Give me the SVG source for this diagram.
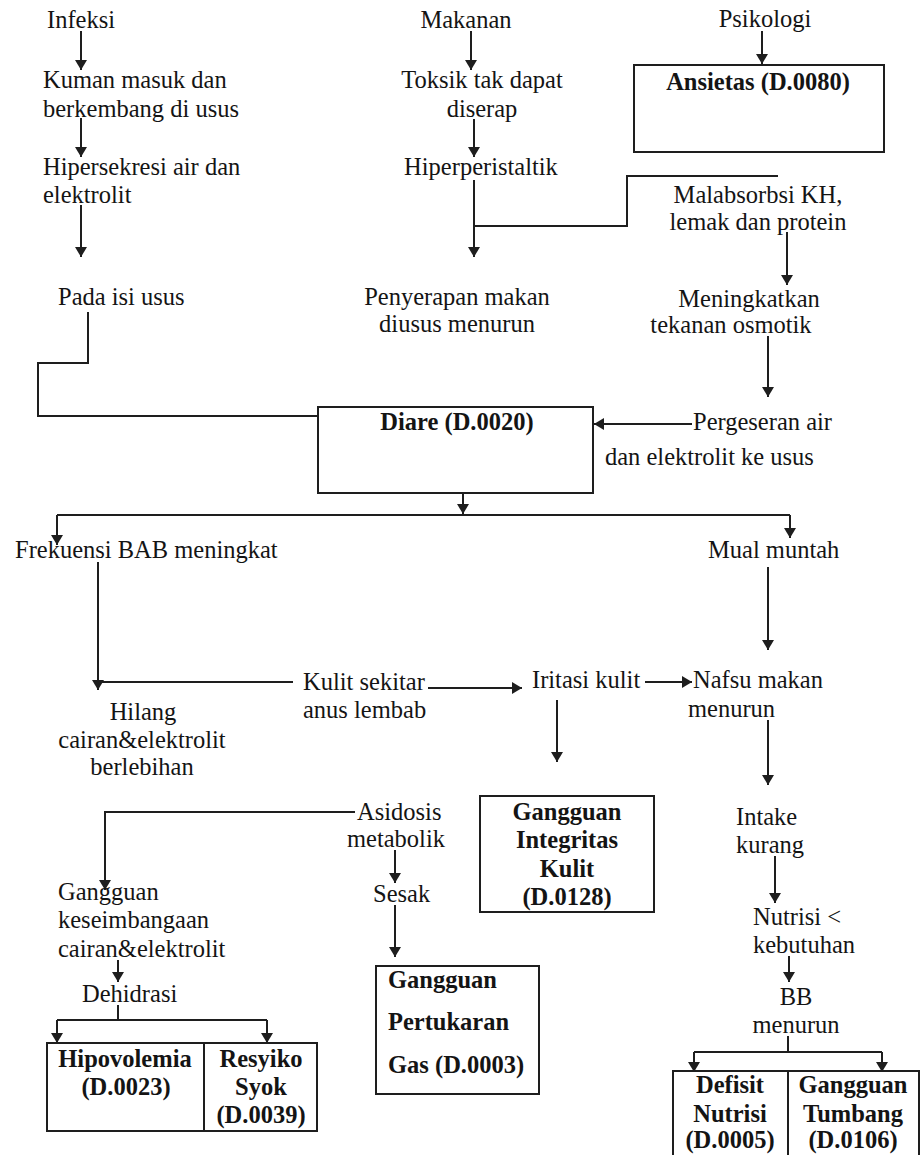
<svg xmlns="http://www.w3.org/2000/svg" width="921" height="1155" viewBox="0 0 921 1155">
<style>
text{font-family:'Liberation Serif','Times New Roman',serif;font-size:24.5px;fill:#141414}
.b{font-weight:bold}
.m{text-anchor:middle}
.c{fill:none;stroke:#1e1e1e;stroke-width:2}
.a{marker-end:url(#ah)}
.box{fill:none;stroke:#1e1e1e;stroke-width:2}
</style>
<defs>
<marker id="ah" viewBox="0 0 10 12" markerWidth="10" markerHeight="12" refX="10" refY="6" orient="auto" markerUnits="userSpaceOnUse">
<path d="M0,0 L10,6 L0,12 z" fill="#1e1e1e"/>
</marker>
</defs>
<rect width="921" height="1155" fill="#fff"/>
<g id="connectors">
<path class="c a" d="M81,31 V70"/>
<path class="c a" d="M81,118 V157"/>
<path class="c a" d="M81,205 V257"/>
<path class="c" d="M88,312 V363 H38 V416 H318"/>
<path class="c a" d="M471,31 V70"/>
<path class="c a" d="M474,119 V157"/>
<path class="c a" d="M474,180 V257"/>
<path class="c" d="M778,176 H627 V226 H474"/>
<path class="c a" d="M762,31 V64"/>
<path class="c a" d="M787,232 V285"/>
<path class="c a" d="M768,336 V397"/>
<path class="c a" d="M692,424 H594"/>
<path class="c a" d="M463,494 V514"/>
<path class="c" d="M57,515 H790"/>
<path class="c a" d="M57,515 V545"/>
<path class="c a" d="M790,515 V538"/>
<path class="c a" d="M98,562 V690"/>
<path class="c" d="M293,682 H98"/>
<path class="c a" d="M428,688 H522"/>
<path class="c a" d="M645,682 H692"/>
<path class="c a" d="M768,567 V650"/>
<path class="c a" d="M557,700 V762"/>
<path class="c a" d="M768,720 V785"/>
<path class="c a" d="M355,812 H105 V890"/>
<path class="c a" d="M395,850 V883"/>
<path class="c a" d="M395,905 V957"/>
<path class="c a" d="M118,960 V982"/>
<path class="c" d="M118,1005 V1020 M57,1020 H267"/>
<path class="c a" d="M57,1020 V1043"/>
<path class="c a" d="M267,1020 V1043"/>
<path class="c a" d="M775,856 V903"/>
<path class="c a" d="M789,956 V982"/>
<path class="c" d="M788,1036 V1052 M694,1052 H882"/>
<path class="c a" d="M694,1052 V1072"/>
<path class="c a" d="M882,1052 V1072"/>
</g>
<g id="infeksi"><text x="47" y="28">Infeksi</text></g>
<g id="kuman"><text x="43" y="88">Kuman masuk dan</text><text x="43" y="117">berkembang di usus</text></g>
<g id="hipersekresi"><text x="43" y="175">Hipersekresi air dan</text><text x="43" y="203">elektrolit</text></g>
<g id="pada"><text x="58" y="305">Pada isi usus</text></g>
<g id="makanan"><text class="m" x="466" y="28">Makanan</text></g>
<g id="toksik"><text class="m" x="482" y="88">Toksik tak dapat</text><text class="m" x="482" y="117">diserap</text></g>
<g id="hiperperistaltik"><text class="m" x="481" y="175">Hiperperistaltik</text></g>
<g id="penyerapan"><text class="m" x="457" y="305">Penyerapan makan</text><text class="m" x="457" y="332">diusus menurun</text></g>
<g id="psikologi"><text class="m" x="765" y="27">Psikologi</text></g>
<g id="ansietas"><rect class="box" x="634" y="65" width="250" height="87"/><text class="b m" x="758" y="90">Ansietas (D.0080)</text></g>
<g id="malabsorbsi"><text class="m" x="758" y="203">Malabsorbsi KH,</text><text class="m" x="758" y="230">lemak dan protein</text></g>
<g id="meningkatkan"><text class="m" x="749" y="307">Meningkatkan</text><text class="m" x="731" y="333">tekanan osmotik</text></g>
<g id="pergeseran"><text x="693" y="430">Pergeseran air</text><text x="605" y="465">dan elektrolit ke usus</text></g>
<g id="diare"><rect class="box" x="318" y="407" width="275" height="86"/><text class="b m" x="457" y="430">Diare (D.0020)</text></g>
<g id="frekuensi"><text x="15" y="558">Frekuensi BAB meningkat</text></g>
<g id="mual"><text x="708" y="558">Mual muntah</text></g>
<g id="hilang"><text class="m" x="143" y="720">Hilang</text><text class="m" x="142" y="748">cairan&amp;elektrolit</text><text class="m" x="142" y="775">berlebihan</text></g>
<g id="kulit"><text x="303" y="690">Kulit sekitar</text><text x="303" y="718">anus lembab</text></g>
<g id="iritasi"><text x="532" y="688">Iritasi kulit</text></g>
<g id="nafsu"><text x="693" y="688">Nafsu makan</text><text x="688" y="717">menurun</text></g>
<g id="integritas"><rect class="box" x="480" y="796" width="174" height="116"/><text class="b m" x="567" y="820">Gangguan</text><text class="b m" x="567" y="848">Integritas</text><text class="b m" x="567" y="877">Kulit</text><text class="b m" x="567" y="905">(D.0128)</text></g>
<g id="asidosis"><text x="357" y="820">Asidosis</text><text x="347" y="847">metabolik</text></g>
<g id="sesak"><text x="373" y="902">Sesak</text></g>
<g id="keseimbangan"><text x="58" y="900">Gangguan</text><text x="58" y="928">keseimbangaan</text><text x="58" y="957">cairan&amp;elektrolit</text></g>
<g id="dehidrasi"><text x="82" y="1002">Dehidrasi</text></g>
<g id="hipovolemia"><rect class="box" x="47" y="1043" width="157" height="88"/><text class="b m" x="125" y="1067">Hipovolemia</text><text class="b m" x="126" y="1095">(D.0023)</text></g>
<g id="resyiko"><rect class="box" x="204" y="1043" width="113" height="88"/><text class="b m" x="261" y="1067">Resyiko</text><text class="b m" x="261" y="1095">Syok</text><text class="b m" x="261" y="1123">(D.0039)</text></g>
<g id="pertukaran"><rect class="box" x="376" y="966" width="163" height="128"/><text class="b" x="388" y="988">Gangguan</text><text class="b" x="388" y="1030">Pertukaran</text><text class="b" x="388" y="1073">Gas (D.0003)</text></g>
<g id="intake"><text x="736" y="825">Intake</text><text x="736" y="853">kurang</text></g>
<g id="nutrisi"><text x="753" y="925">Nutrisi &lt;</text><text x="753" y="953">kebutuhan</text></g>
<g id="bb"><text class="m" x="796" y="1005">BB</text><text class="m" x="796" y="1033">menurun</text></g>
<g id="defisit"><rect class="box" x="673" y="1071" width="115" height="90"/><text class="b m" x="730" y="1093">Defisit</text><text class="b m" x="730" y="1122">Nutrisi</text><text class="b m" x="730" y="1148">(D.0005)</text></g>
<g id="tumbang"><rect class="box" x="788" y="1071" width="131" height="90"/><text class="b m" x="853" y="1093">Gangguan</text><text class="b m" x="853" y="1122">Tumbang</text><text class="b m" x="853" y="1148">(D.0106)</text></g>
</svg>
